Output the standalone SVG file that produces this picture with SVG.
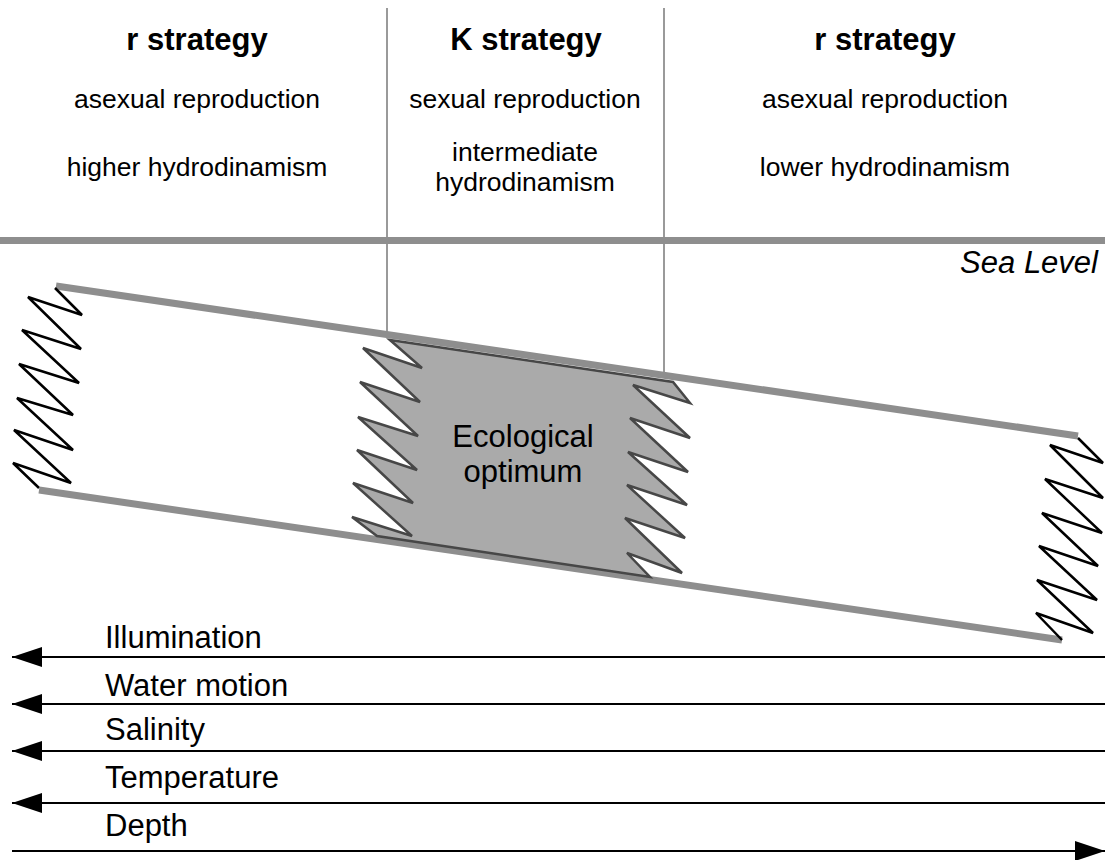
<svg xmlns="http://www.w3.org/2000/svg" width="1105" height="860" viewBox="0 0 1105 860">
<style>
text{font-family:"Liberation Sans",Arial,sans-serif;fill:#000}
.title{font-size:31px;font-weight:bold;text-anchor:middle}
.sub{font-size:26.5px;text-anchor:middle}
.lab{font-size:31px}
.band{stroke:#8e8e8e;stroke-width:7;fill:none}
.div{stroke:#9a9a9a;stroke-width:2;fill:none}
.zig{stroke:#000;stroke-width:2.5;fill:none;stroke-linejoin:miter}
.arr{stroke:#000;stroke-width:2;fill:none}
</style>
<defs>
<marker id="ah" markerUnits="userSpaceOnUse" markerWidth="30" markerHeight="20" refX="30" refY="10" orient="auto">
<path d="M0,0 L30,10 L0,20 Z" fill="#000"/>
</marker>
</defs>
<rect width="1105" height="860" fill="#fff"/>

<g id="header">
<line class="div" x1="387" y1="8" x2="387" y2="334"/>
<line class="div" x1="664" y1="8" x2="664" y2="375"/>
<text class="title" x="197" y="50">r strategy</text>
<text class="sub" x="197" y="108">asexual reproduction</text>
<text class="sub" x="197" y="176">higher hydrodinamism</text>
<text class="title" x="526" y="50">K strategy</text>
<text class="sub" x="525" y="108">sexual reproduction</text>
<text class="sub" x="525" y="161">intermediate</text>
<text class="sub" x="525" y="191">hydrodinamism</text>
<text class="title" x="885" y="50">r strategy</text>
<text class="sub" x="885" y="108">asexual reproduction</text>
<text class="sub" x="885" y="176">lower hydrodinamism</text>
</g>

<g id="sea-level">
<line class="band" x1="0" y1="240.5" x2="1105" y2="240.5"/>
<text class="lab" x="1098" y="273" text-anchor="end" font-style="italic">Sea Level</text>
</g>

<g id="band">
<line class="band" x1="56" y1="286" x2="1078" y2="436"/>
<line class="band" x1="39" y1="490" x2="1062" y2="640"/>
<polyline class="zig" points="55,288 82,315 28,297 81,349 22,330 79,383 19,364 73,415 17,398 73,450 14,430 71,483 13,463 39,488"/>
<polyline class="zig" points="1078,438 1103,463 1050,445 1103,498 1045,479 1102,533 1042,513 1098,566 1039,546 1097,600 1037,580 1093,633 1036,613 1062,640"/>
</g>

<g id="optimum">
<polygon points="390,340 673,382 690,403 633,385 690,438 630,418 688,472 628,452 687,505 627,485 685,538 625,518 682,573 627,553 650,577 377,536 352,517 412,536 353,483 413,503 357,450 417,470 358,417 418,436 360,382 420,402 363,348 422,368" fill="#aaaaaa" stroke="#474747" stroke-width="2.5" stroke-linejoin="miter"/>
<text class="lab" x="523" y="447" text-anchor="middle">Ecological</text>
<text class="lab" x="523" y="482" text-anchor="middle">optimum</text>
</g>

<g id="connectors">
<line class="arr" x1="1105" y1="657" x2="12" y2="657" marker-end="url(#ah)"/>
<line class="arr" x1="1105" y1="704" x2="12" y2="704" marker-end="url(#ah)"/>
<line class="arr" x1="1105" y1="751" x2="12" y2="751" marker-end="url(#ah)"/>
<line class="arr" x1="1105" y1="803" x2="12" y2="803" marker-end="url(#ah)"/>
<line class="arr" x1="12" y1="851" x2="1105" y2="851" marker-end="url(#ah)"/>
</g>

<g id="labels">
<text class="lab" x="105" y="648">Illumination</text>
<text class="lab" x="105" y="696">Water motion</text>
<text class="lab" x="105" y="740">Salinity</text>
<text class="lab" x="105" y="788">Temperature</text>
<text class="lab" x="105" y="836">Depth</text>
</g>
</svg>
